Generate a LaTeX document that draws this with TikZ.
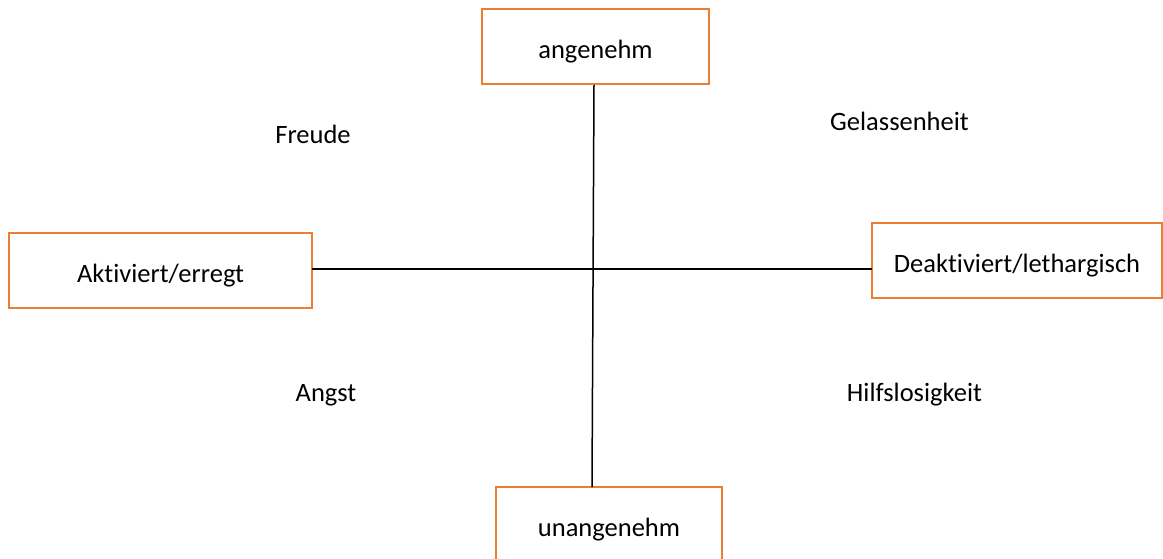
\documentclass[tikz,border=0pt]{standalone}
\usepackage{fontspec}
\setmainfont{Carlito}[Ligatures={NoCommon}]
\definecolor{boxorange}{RGB}{237,125,49}
\begin{document}
\begin{tikzpicture}[x=1pt,y=-1pt,
  axisbox/.style={draw=boxorange,line width=2pt,fill=white,rectangle,inner sep=0pt,
    text height=24pt,text depth=0pt,
    font=\fontsize{26.5}{32}\selectfont},
  lbl/.style={font=\fontsize{26.5}{32}\selectfont,inner sep=0pt},
  axisline/.style={draw=black,line width=1.5pt}]
\useasboundingbox (0,0) rectangle (1163,558);
\node[axisbox,minimum width=227pt,minimum height=75pt] (top) at (595.5,46.5) {angenehm};
\node[axisbox,minimum width=303pt,minimum height=75pt] (left) at (160.5,270.5) {Aktiviert/erregt};
\node[axisbox,minimum width=290pt,minimum height=75pt] (right) at (1017,260.5) {Deaktiviert/lethargisch};
\node[axisbox,minimum width=226pt,minimum height=75pt] (bottom) at (609,524.5) {unangenehm};
\coordinate (vb) at (592,487);
\coordinate (hl) at (312,269);
\coordinate (hr) at (872,269);
\draw[axisline] (top.south -| 594,0) -- (vb);
\draw[axisline] (hl) -- (hr);
\node[lbl] (freude) at (313,134) {Freude};
\node[lbl] (gel) at (899.5,121) {Gelassenheit};
\node[lbl] (angst) at (326,395) {Angst};
\node[lbl] (hilf) at (914.5,395) {Hilfslosigkeit};
\end{tikzpicture}
\end{document}
